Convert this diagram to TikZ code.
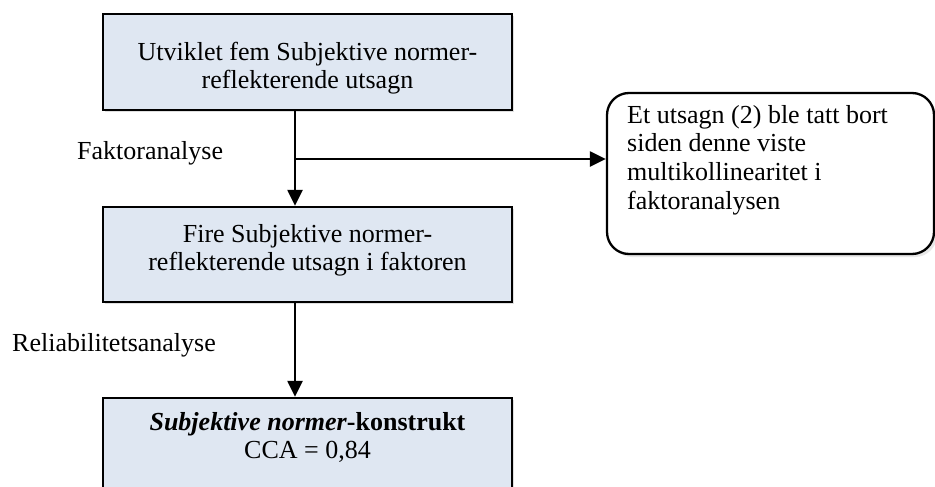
\documentclass[tikz,border=0pt]{standalone}
\usepackage{fontspec}
\setmainfont{Liberation Serif}
\usetikzlibrary{arrows.meta,shadows}
\definecolor{boxfill}{HTML}{DFE7F2}
\begin{document}
\begin{tikzpicture}[x=1pt,y=-1pt,
  stepbox/.style={draw=black, line width=2.3pt, fill=boxfill, inner sep=0pt,
    minimum width=409pt,
    drop shadow={opacity=0.25, shadow xshift=2pt, shadow yshift=-2pt}},
  notebox/.style={draw=black, line width=2.3pt, fill=white, inner sep=0pt,
    rounded corners=22pt, minimum width=327pt, minimum height=161pt,
    drop shadow={opacity=0.18, shadow xshift=3pt, shadow yshift=-3pt}},
  txt/.style={font=\fontsize{26}{28}\selectfont, inner sep=0pt, align=center},
  lbl/.style={font=\fontsize{26}{28}\selectfont, inner sep=0pt, anchor=west},
  flow/.style={line width=2.3pt, -{Triangle[length=16pt,width=15pt]}}]
  \clip (0,0) rectangle (935,487);
  \fill[white] (0,0) rectangle (935,487);

  % boxes of the flow
  \node[stepbox, minimum height=96pt] (b1) at (307.5,62) {};
  \node[stepbox, minimum height=95pt] (b2) at (307.5,254.5) {};
  \node[stepbox, minimum height=120pt] (b3) at (307.5,458) {};
  \node[notebox] (note) at (770.5,173.5) {};

  % box texts
  \node[txt] (t1) at (307.5,68.5) {Utviklet fem Subjektive normer-\\reflekterende utsagn};
  \node[txt] (t2) at (307.5,250.5) {Fire Subjektive normer-\\reflekterende utsagn i faktoren};
  \node[txt] (t3) at (307.5,437.5) {\textbf{\textit{Subjektive normer}-konstrukt}\\CCA = 0,84};
  \node[txt, align=left, anchor=west, font=\fontsize{26}{28.7}\selectfont] (t4) at (627,160)
    {Et utsagn (2) ble tatt bort\\siden denne viste\\multikollinearitet i\\faktoranalysen};

  % step labels
  \node[lbl] (l1) at (77,153) {Faktoranalyse};
  \node[lbl] (l2) at (12,345) {Reliabilitetsanalyse};

  % connectors
  \coordinate (axis) at (295,0);
  \coordinate (split) at (295,159);
  \draw[flow] (b1.south -| axis) -- (b2.north -| axis);
  \draw[flow] (split) -- (split -| note.west);
  \draw[flow] (b2.south -| axis) -- (b3.north -| axis);
\end{tikzpicture}
\end{document}
